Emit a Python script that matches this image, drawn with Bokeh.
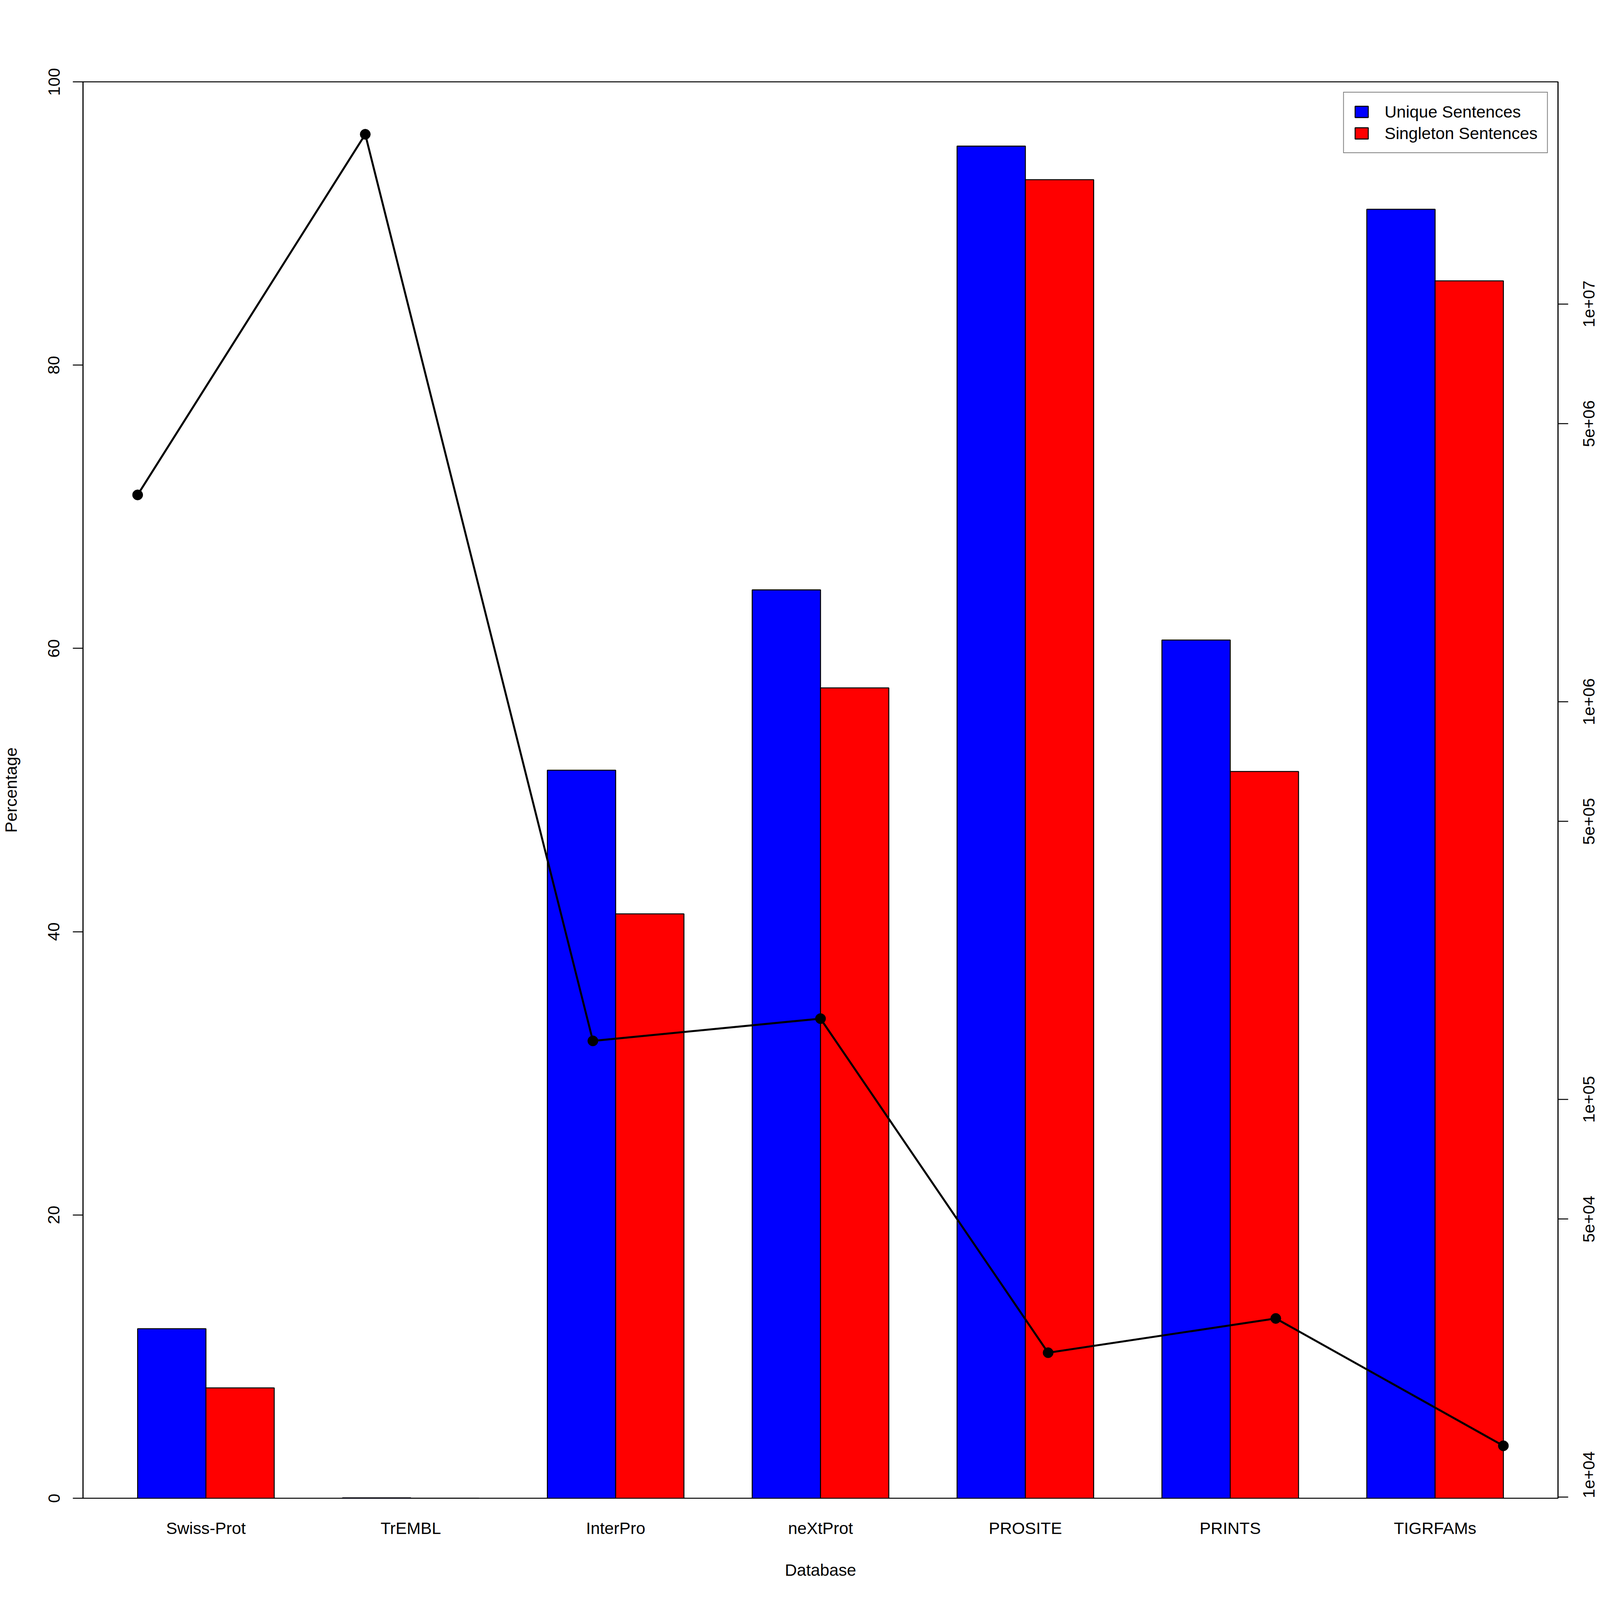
import math
from bokeh.plotting import figure
from bokeh.models import (Range1d, LinearAxis, LogAxis, LogScale, FixedTicker,
                          Legend, LegendItem, ColumnDataSource)
from bokeh.embed import file_html
from bokeh.resources import INLINE

# ---------------- data ----------------
databases = ["Swiss-Prot", "TrEMBL", "InterPro", "neXtProt", "PROSITE", "PRINTS", "TIGRFAMs"]
unique_pct = [11.97, 0.03, 51.40, 64.13, 95.46, 60.59, 91.00]
singleton_pct = [7.79, 0.0, 41.26, 57.21, 93.09, 51.31, 85.95]
sentence_counts = [3310000, 26700000, 140300, 159600, 23070, 28130, 13460]

left_ticks = [0, 20, 40, 60, 80, 100]
right_ticks = [10000, 50000, 100000, 500000, 1000000, 5000000, 10000000]
right_tick_labels = ["1e+04", "5e+04", "1e+05", "5e+05", "1e+06", "5e+06", "1e+07"]

legend_labels = ["Unique Sentences", "Singleton Sentences"]
bar_colors = ["#0000FF", "#FF0000"]

FONT = "Liberation Sans"

# the page is laid out in a 4096 px space
S = 4096.0 / 4800.0


def px(v):
    return int(round(v * S))


FS_PX = 50 * S
FS = "%.1fpx" % FS_PX
LW = 3 * S

n = len(databases)
# grouped bar layout (R barplot, beside=TRUE, space=c(0,1))
group_center = [3 * i + 2 for i in range(n)]
blue_x = [c - 0.5 for c in group_center]
red_x = [c + 0.5 for c in group_center]
x_lo, x_hi = 1.0, 3.0 * n
pad = 0.04 * (x_hi - x_lo)

# overlay line range (R plot default 4% extension)
lx_lo, lx_hi = 1.0, float(n)
lpad = 0.04 * (lx_hi - lx_lo)
ly_lo = math.log10(min(sentence_counts))
ly_hi = math.log10(max(sentence_counts))
lypad = 0.04 * (ly_hi - ly_lo)

BL, BT, BB = 209, 209, 261
W, H = 4110, 4096
BR = W - 3988
p = figure(width=W, height=H, output_backend="svg", toolbar_location=None,
           x_range=Range1d(x_lo - pad, x_hi + pad), y_range=Range1d(0, 100),
           x_axis_type=None, y_axis_type=None,
           min_border_left=BL, min_border_right=BR,
           min_border_top=BT, min_border_bottom=BB)
p.grid.visible = False
p.outline_line_color = "black"
p.outline_line_width = LW
p.background_fill_color = "white"
p.border_fill_color = "white"

p.extra_x_ranges = {"line": Range1d(lx_lo - lpad, lx_hi + lpad)}
p.extra_y_ranges = {"log": Range1d(10 ** (ly_lo - lypad), 10 ** (ly_hi + lypad))}
p.extra_y_scales = {"log": LogScale()}


def style_axis(ax):
    ax.major_label_text_font = FONT
    ax.major_label_text_font_size = FS
    ax.major_label_text_color = "black"
    ax.axis_label_text_font = FONT
    ax.axis_label_text_font_size = FS
    ax.axis_label_text_font_style = "normal"
    ax.axis_label_text_color = "black"
    ax.axis_line_color = "black"
    ax.axis_line_width = LW
    ax.major_tick_line_color = "black"
    ax.major_tick_line_width = LW
    ax.major_tick_out = px(30)
    ax.major_tick_in = 0
    ax.minor_tick_line_color = None


left = LinearAxis(ticker=FixedTicker(ticks=left_ticks), axis_label="Percentage")
style_axis(left)
left.major_label_orientation = "vertical"
left.major_label_standoff = 34
left.axis_label_standoff = 69
p.add_layout(left, "left")

bottom = LinearAxis(ticker=FixedTicker(ticks=group_center), axis_label="Database",
                    major_label_overrides={c: name for c, name in zip(group_center, databases)})
style_axis(bottom)
bottom.axis_line_color = None
bottom.major_tick_line_color = None
bottom.major_tick_out = 0
bottom.major_label_standoff = px(61)
bottom.axis_label_standoff = px(66)
p.add_layout(bottom, "below")

# right log axis: tick marks
right = LogAxis(y_range_name="log", ticker=FixedTicker(ticks=right_ticks))
style_axis(right)
right.major_label_text_color = None
right.major_label_standoff = 0
p.add_layout(right, "right")

# right log axis labels, read bottom-to-top and centred on the ticks
frame_h = (H - BT - BB)
px_per_decade = frame_h / (2 * lypad + ly_hi - ly_lo)
y_lo_lim = 10 ** (ly_lo - lypad)
char_w = {"e": 0.556, "+": 0.584}
label_vals = []
for t, s in zip(right_ticks, right_tick_labels):
    half_w = 0.5 * FS_PX * sum(char_w.get(ch, 0.556) for ch in s)
    v = t * 10 ** (-half_w / px_per_decade)
    # a label cannot start below the frame: keep it just inside the range
    label_vals.append(max(v, y_lo_lim * 1.0005))
right_lab = LogAxis(y_range_name="log", ticker=FixedTicker(ticks=label_vals),
                    major_label_overrides={v: s for v, s in zip(label_vals, right_tick_labels)})
style_axis(right_lab)
right_lab.axis_line_color = None
right_lab.major_tick_line_color = None
right_lab.major_tick_out = 0
right_lab.major_label_orientation = math.pi / 2
right_lab.major_label_standoff = 53
p.add_layout(right_lab, "right")

src = ColumnDataSource(dict(bx=blue_x, rx=red_x, u=unique_pct, s=singleton_pct))
rb = p.vbar(x="bx", top="u", bottom=0, width=1.0, source=src,
            fill_color=bar_colors[0], line_color="black", line_width=LW)
rr = p.vbar(x="rx", top="s", bottom=0, width=1.0, source=src,
            fill_color=bar_colors[1], line_color="black", line_width=LW)

line_x = list(range(1, n + 1))
p.line(line_x, sentence_counts, x_range_name="line", y_range_name="log",
       line_color="black", line_width=6 * S, line_join="round")
p.scatter(line_x, sentence_counts, x_range_name="line", y_range_name="log",
          marker="circle", size=31 * S, fill_color="black", line_color="black")

legend = Legend(items=[LegendItem(label=legend_labels[0], renderers=[rb]),
                       LegendItem(label=legend_labels[1], renderers=[rr])],
                location="top_right")
legend.margin = px(31)
legend.padding = 24
legend.spacing = 5
legend.glyph_width = 42
legend.glyph_height = 36
legend.label_height = 50
legend.label_standoff = 38
legend.label_text_font = FONT
legend.label_text_font_size = FS
legend.label_text_color = "black"
legend.border_line_color = "black"
legend.border_line_width = LW
legend.background_fill_color = "white"
legend.background_fill_alpha = 1.0
p.add_layout(legend)

html = file_html(p, INLINE)
html = html.replace("<head>", "<head><style>body{background:white;}</style>", 1)
open("out.html", "w").write(html)
